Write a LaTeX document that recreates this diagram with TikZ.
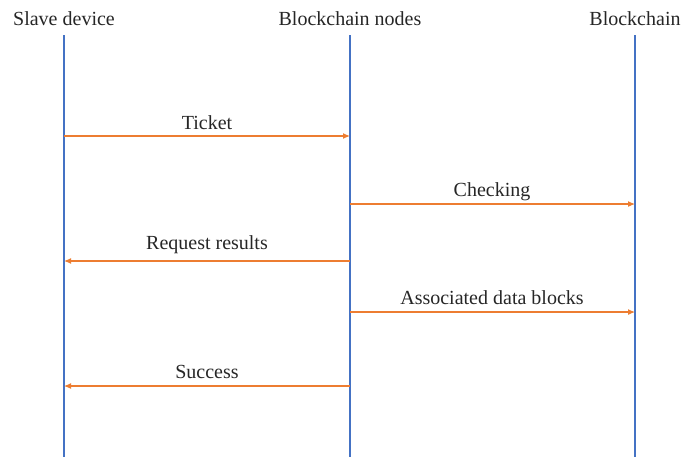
\documentclass[tikz,border=0pt]{standalone}
\usepackage{fontspec}
\setmainfont{Liberation Serif}
\usetikzlibrary{arrows.meta}
\definecolor{lifeblue}{HTML}{4472C4}
\definecolor{msgorange}{HTML}{ED7D31}
\begin{document}
\begin{tikzpicture}[x=1pt,y=-1pt,
  hdr/.style={font=\fontsize{20}{24}\selectfont, text=black!85, inner sep=0pt, anchor=base},
  lbl/.style={font=\fontsize{20}{24}\selectfont, text=black!85, inner sep=0pt, anchor=base},
  life/.style={draw=lifeblue, line width=1.2pt},
  msg/.style={draw=msgorange, line width=1.1pt, -{Latex[length=7pt,width=6pt]}}]
  \useasboundingbox (0,0) rectangle (684,458);
  % participants
  \node[hdr] (h1) at (64,25) {Slave device};
  \node[hdr] (h2) at (350,25) {Blockchain nodes};
  \node[hdr] (h3) at (635,25) {Blockchain};
  % lifelines
  \foreach \n/\x in {1/64,2/350,3/635}{
    \coordinate (t\n) at (\x,35);
    \coordinate (b\n) at (\x,457);
    \draw[life] (t\n) -- (b\n);
  }
  % message anchor points on the lifelines
  \coordinate (m1a) at (64,136);  \coordinate (m1b) at (350,136);
  \coordinate (m2a) at (350,204); \coordinate (m2b) at (635,204);
  \coordinate (m3a) at (350,261); \coordinate (m3b) at (64,261);
  \coordinate (m4a) at (350,312); \coordinate (m4b) at (635,312);
  \coordinate (m5a) at (350,386); \coordinate (m5b) at (64,386);
  % messages
  \draw[msg] (m1a) -- (m1b);
  \draw[msg] (m2a) -- (m2b);
  \draw[msg] (m3a) -- (m3b);
  \draw[msg] (m4a) -- (m4b);
  \draw[msg] (m5a) -- (m5b);
  % labels
  \node[lbl] (l1) at (207,129) {Ticket};
  \node[lbl] (l2) at (492,196) {Checking};
  \node[lbl] (l3) at (207,249) {Request results};
  \node[lbl] (l4) at (492,304) {Associated data blocks};
  \node[lbl] (l5) at (207,378) {Success};
\end{tikzpicture}
\end{document}
